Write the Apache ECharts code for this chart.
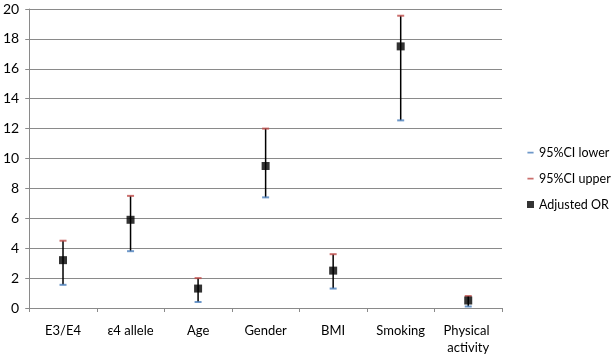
<!DOCTYPE html>
<html>
<head>
<meta charset="utf-8">
<script src="https://cdn.jsdelivr.net/npm/echarts@6/dist/echarts.min.js"></script>
<style>
html,body{margin:0;padding:0;background:#fff;}
#chart{width:615px;height:356px;}
</style>
</head>
<body>
<div id="chart"></div>
<script>
var categories = ["E3/E4", "ε4 allele", "Age", "Gender", "BMI", "Smoking", "Physical activity"];
var ciLower = [1.55, 3.8, 0.4, 7.4, 1.3, 12.55, 0.1];
var ciUpper = [4.5, 7.5, 2.0, 12.0, 3.6, 19.55, 0.8];
var adjustedOR = [3.2, 5.9, 1.3, 9.5, 2.5, 17.5, 0.5];
var yTicks = [0, 2, 4, 6, 8, 10, 12, 14, 16, 18, 20];

var FONT = 'Lato';
var dashIcon = 'path://M0,0L0.01,0M0,3L7,3L7,5L0,5ZM0,8L0.01,8';

var chart = echarts.init(document.getElementById('chart'), null, {renderer: 'canvas'});
var errData = categories.map(function (c, i) { return [i, ciLower[i], ciUpper[i]]; });

chart.setOption({
  animation: false,
  textStyle: {fontFamily: FONT},
  grid: {left: 28, right: 113, top: 9, bottom: 47, containLabel: false},
  legend: {
    orient: 'vertical',
    left: 522,
    top: 141,
    itemWidth: 7,
    itemHeight: 7,
    itemGap: 13,
    textStyle: {fontFamily: FONT, fontSize: 12.5, color: '#000'},
    data: [
      {name: '95%CI lower', icon: dashIcon},
      {name: '95%CI upper', icon: dashIcon},
      {name: 'Adjusted OR', icon: 'rect'}
    ]
  },
  xAxis: {
    type: 'category',
    data: categories,
    boundaryGap: true,
    axisLine: {lineStyle: {color: '#8a8a8a', width: 1}},
    axisTick: {show: true, length: 4, lineStyle: {color: '#8a8a8a'}},
    axisLabel: {
      color: '#000', fontFamily: FONT, fontSize: 13, margin: 14,
      width: 64, overflow: 'break', lineHeight: 17, interval: 0
    },
    splitLine: {show: false}
  },
  yAxis: {
    type: 'value',
    min: yTicks[0],
    max: yTicks[yTicks.length - 1],
    interval: 2,
    axisLine: {show: true, lineStyle: {color: '#8a8a8a', width: 1}},
    axisTick: {show: true, length: 4, lineStyle: {color: '#8a8a8a'}},
    axisLabel: {color: '#000', fontFamily: FONT, fontSize: 14, margin: 10},
    splitLine: {show: true, lineStyle: {color: '#8a8a8a', width: 1}}
  },
  series: [
    {
      type: 'custom',
      name: 'err',
      data: errData,
      encode: {x: 0, y: [1, 2]},
      z: 2,
      silent: true,
      renderItem: function (params, api) {
        var p1 = api.coord([api.value(0), api.value(1)]);
        var p2 = api.coord([api.value(0), api.value(2)]);
        return {
          type: 'line',
          shape: {x1: p1[0], y1: p1[1], x2: p2[0], y2: p2[1]},
          style: {stroke: '#000', lineWidth: 1.5}
        };
      }
    },
    {
      type: 'scatter',
      name: '95%CI lower',
      data: ciLower,
      symbol: 'rect',
      symbolSize: [7, 2],
      itemStyle: {color: '#4A7EBB'},
      z: 3
    },
    {
      type: 'scatter',
      name: '95%CI upper',
      data: ciUpper,
      symbol: 'rect',
      symbolSize: [7, 2],
      itemStyle: {color: '#BE4B48'},
      z: 3
    },
    {
      type: 'scatter',
      name: 'Adjusted OR',
      data: adjustedOR,
      symbol: 'rect',
      symbolSize: 8,
      itemStyle: {color: '#000'},
      z: 4
    }
  ]
});
</script>
</body>
</html>
